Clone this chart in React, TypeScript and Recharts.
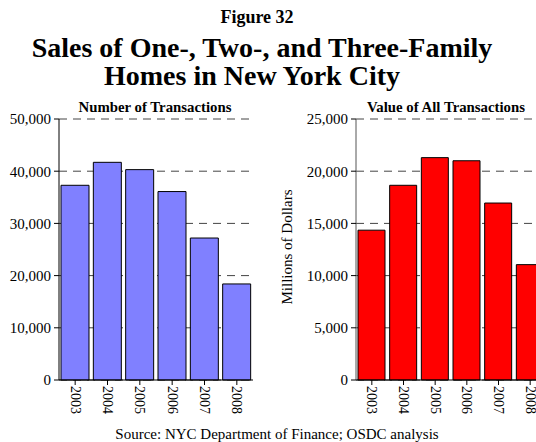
import { BarChart, Bar, XAxis, YAxis, CartesianGrid } from 'recharts'

const YEARS = ['2003', '2004', '2005', '2006', '2007', '2008']
const TRANSACTIONS = [37300, 41700, 40300, 36100, 27200, 18400]
const VALUE_MILLIONS = [14350, 18650, 21300, 21000, 16950, 11050]
const TRANSACTION_TICKS = [0, 10000, 20000, 30000, 40000, 50000]
const VALUE_TICKS = [0, 5000, 10000, 15000, 20000, 25000]

const FONT = '"Liberation Serif", "Times New Roman", serif'

const transactionData = YEARS.map((year, i) => ({ year, value: TRANSACTIONS[i] }))
const valueData = YEARS.map((year, i) => ({ year, value: VALUE_MILLIONS[i] }))

const fmt = (v: number) => v.toLocaleString('en-US')

function YearTick({ x, y, payload }: any) {
  return (
    <text
      x={x}
      y={y}
      transform={`rotate(90, ${x}, ${y})`}
      textAnchor="start"
      dominantBaseline="central"
      fontSize={14}
      fill="#000"
      fontFamily={FONT}
    >
      {payload.value}
    </text>
  )
}

function Label({ x, y, size, bold, children }: any) {
  return (
    <div
      style={{
        position: 'absolute',
        left: x,
        top: y,
        transform: 'translate(-50%, -50%)',
        whiteSpace: 'nowrap',
        fontSize: size,
        fontWeight: bold ? 'bold' : 'normal',
        lineHeight: 1,
      }}
    >
      {children}
    </div>
  )
}

export default function App() {
  return (
    <div
      style={{
        position: 'absolute',
        left: 0,
        top: 0,
        width: 536,
        height: 442,
        overflow: 'hidden',
        background: '#fff',
        fontFamily: FONT,
        color: '#000',
      }}
    >
      <Label x={257} y={17} size={18} bold>Figure 32</Label>
      <Label x={262} y={48} size={28} bold>Sales of One-, Two-, and Three-Family</Label>
      <Label x={252} y={76} size={28} bold>Homes in New York City</Label>

      {/* Left: number of transactions */}
      <div style={{ position: 'absolute', left: 0, top: 0 }}>
        <BarChart
          width={270}
          height={442}
          data={transactionData}
          margin={{ top: 119, right: 17, bottom: 22, left: 0 }}
        >
          <CartesianGrid
            yAxisId="left"
            vertical={false}
            stroke="#444"
            strokeDasharray="8 6"
          />
          <XAxis
            dataKey="year"
            height={40}
            tick={<YearTick />}
            tickSize={5}
            tickMargin={1}
            axisLine={{ stroke: '#000' }}
            tickLine={{ stroke: '#000' }}
            interval={0}
          />
          <YAxis
            yAxisId="left"
            width={59}
            domain={[0, 50000]}
            ticks={TRANSACTION_TICKS}
            tickFormatter={fmt}
            tick={{ fontSize: 15, fill: '#000', fontFamily: FONT }}
            tickSize={5}
            tickMargin={3}
            axisLine={{ stroke: '#000' }}
            tickLine={{ stroke: '#000' }}
          />
          <YAxis
            yAxisId="frame"
            orientation="right"
            width={0}
            tick={false}
            tickLine={false}
            axisLine={{ stroke: '#000' }}
          />
          <Bar
            yAxisId="left"
            dataKey="value"
            fill="#8080FF"
            stroke="#000"
            strokeWidth={1}
            barSize={28}
            isAnimationActive={false}
          />
        </BarChart>
      </div>
      <Label x={155} y={107} size={14.8} bold>Number of Transactions</Label>

      {/* Right: value of all transactions */}
      <div style={{ position: 'absolute', left: 270, top: 0 }}>
        <BarChart
          width={290}
          height={442}
          data={valueData}
          margin={{ top: 119, right: 14, bottom: 22, left: 0 }}
        >
          <CartesianGrid
            vertical={false}
            stroke="#444"
            strokeDasharray="8 6"
          />
          <XAxis
            dataKey="year"
            height={40}
            tick={<YearTick />}
            tickSize={5}
            tickMargin={1}
            axisLine={{ stroke: '#000' }}
            tickLine={{ stroke: '#000' }}
            interval={0}
          />
          <YAxis
            width={86}
            domain={[0, 25000]}
            ticks={VALUE_TICKS}
            tickFormatter={fmt}
            tick={{ fontSize: 15, fill: '#000', fontFamily: FONT }}
            tickSize={5}
            tickMargin={3}
            axisLine={{ stroke: '#555' }}
            tickLine={{ stroke: '#000' }}
          />
          <Bar
            dataKey="value"
            fill="#FF0000"
            stroke="#000"
            strokeWidth={1}
            barSize={27}
            isAnimationActive={false}
          />
        </BarChart>
      </div>
      <Label x={446} y={107} size={14.8} bold>Value of All Transactions</Label>
      <div
        style={{
          position: 'absolute',
          left: 287,
          top: 247,
          transform: 'translate(-50%, -50%) rotate(-90deg)',
          whiteSpace: 'nowrap',
          fontSize: 15,
          lineHeight: 1,
        }}
      >
        Millions of Dollars
      </div>

      <Label x={277} y={434} size={15}>Source: NYC Department of Finance; OSDC analysis</Label>
    </div>
  )
}
